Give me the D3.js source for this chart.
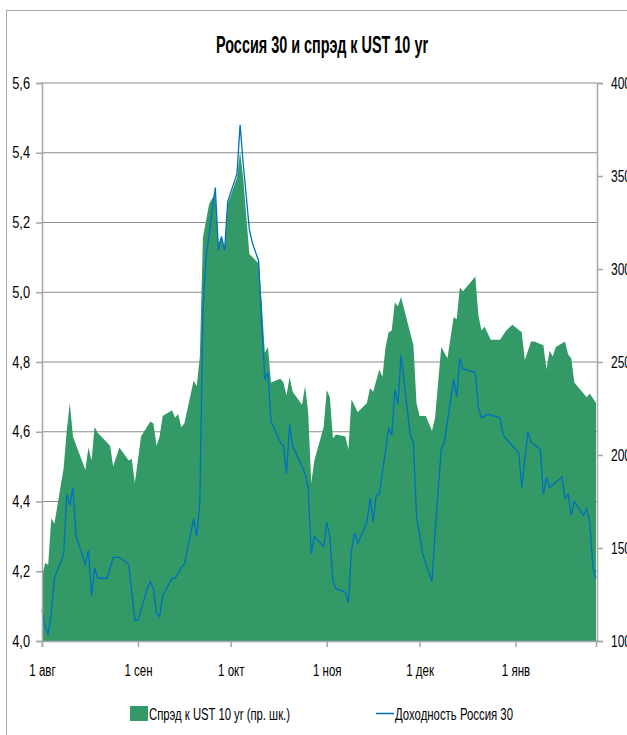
<!DOCTYPE html>
<html>
<head>
<meta charset="utf-8">
<script src="https://cdn.jsdelivr.net/npm/d3@7"></script>
<style>
  body { margin: 0; background: #fff; }
  svg { display: block; font-family: "Liberation Sans", Arial, sans-serif; }
</style>
</head>
<body>
<div id="chart"></div>
<script>
// spread to UST 10yr, bp (right axis)
var spreadDates = ["2011-08-01","2011-08-02","2011-08-03","2011-08-04","2011-08-05","2011-08-08","2011-08-09","2011-08-10","2011-08-11",
  "2011-08-15","2011-08-16","2011-08-17","2011-08-18","2011-08-19","2011-08-23","2011-08-24","2011-08-26","2011-08-29","2011-08-30",
  "2011-08-31","2011-09-02","2011-09-05","2011-09-06","2011-09-07","2011-09-08","2011-09-09","2011-09-12","2011-09-13","2011-09-14",
  "2011-09-15","2011-09-16","2011-09-19","2011-09-20","2011-09-21","2011-09-22","2011-09-23","2011-09-24","2011-09-26","2011-09-27",
  "2011-09-28","2011-09-29","2011-09-30","2011-10-03","2011-10-04","2011-10-05","2011-10-07","2011-10-10","2011-10-11","2011-10-12",
  "2011-10-13","2011-10-14","2011-10-17","2011-10-18","2011-10-19","2011-10-20","2011-10-21","2011-10-24","2011-10-25","2011-10-26",
  "2011-10-27","2011-10-28","2011-10-31","2011-11-01","2011-11-02","2011-11-03","2011-11-04","2011-11-07","2011-11-08","2011-11-09",
  "2011-11-11","2011-11-14","2011-11-15","2011-11-16","2011-11-18","2011-11-19","2011-11-20","2011-11-21","2011-11-22","2011-11-23",
  "2011-11-24","2011-11-25","2011-11-29","2011-11-30","2011-12-01","2011-12-03","2011-12-05","2011-12-06","2011-12-07","2011-12-08",
  "2011-12-10","2011-12-12","2011-12-13","2011-12-14","2011-12-15","2011-12-17","2011-12-19","2011-12-20","2011-12-21","2011-12-22",
  "2011-12-24","2011-12-27","2011-12-29","2011-12-31","2012-01-03","2012-01-04","2012-01-06","2012-01-07","2012-01-10","2012-01-11",
  "2012-01-12","2012-01-13","2012-01-14","2012-01-17","2012-01-18","2012-01-19","2012-01-20","2012-01-21","2012-01-24","2012-01-25",
  "2012-01-27"];
var spreadValues = [134,142,141,166,163,193,213,228,210,
  192,204,197,215,212,205,194,204,197,198,
  185,210,218,217,205,210,221,224,220,222,
  215,217,240,237,253,317,326,335,341,314,
  317,310,335,349,363,349,308,303,282,255,
  258,239,241,239,232,242,234,227,237,223,
  185,197,215,235,231,209,211,210,203,230,
  223,228,236,234,246,242,258,266,267,282,
  280,285,259,228,221,221,213,220,239,258,
  252,274,273,290,288,292,296,275,267,269,
  262,262,267,270,266,251,261,261,259,246,
  256,253,258,261,254,252,239,237,231,233,
  228];

// Russia 30 yield, % (left axis)
var yieldDates = ["2011-08-01","2011-08-02","2011-08-03","2011-08-04","2011-08-05","2011-08-08","2011-08-09","2011-08-10","2011-08-11",
  "2011-08-12","2011-08-15","2011-08-16","2011-08-17","2011-08-18","2011-08-19","2011-08-22","2011-08-24","2011-08-26","2011-08-29",
  "2011-08-31","2011-09-01","2011-09-04","2011-09-05","2011-09-06","2011-09-07","2011-09-08","2011-09-09","2011-09-12","2011-09-13",
  "2011-09-15","2011-09-16","2011-09-19","2011-09-20","2011-09-21","2011-09-22","2011-09-23","2011-09-26","2011-09-27","2011-09-28",
  "2011-09-29","2011-09-30","2011-10-03","2011-10-04","2011-10-05","2011-10-07","2011-10-08","2011-10-10","2011-10-11","2011-10-12",
  "2011-10-13","2011-10-14","2011-10-17","2011-10-18","2011-10-19","2011-10-20","2011-10-21","2011-10-25","2011-10-26","2011-10-27",
  "2011-10-28","2011-10-31","2011-11-01","2011-11-02","2011-11-03","2011-11-04","2011-11-07","2011-11-08","2011-11-09","2011-11-10",
  "2011-11-11","2011-11-14","2011-11-15","2011-11-16","2011-11-17","2011-11-18","2011-11-21","2011-11-22","2011-11-23","2011-11-24",
  "2011-11-25","2011-11-28","2011-11-29","2011-11-30","2011-12-02","2011-12-05","2011-12-06","2011-12-08","2011-12-09","2011-12-12",
  "2011-12-13","2011-12-14","2011-12-15","2011-12-19","2011-12-20","2011-12-21","2011-12-23","2011-12-27","2011-12-28","2011-12-30",
  "2012-01-02","2012-01-03","2012-01-05","2012-01-06","2012-01-09","2012-01-10","2012-01-11","2012-01-12","2012-01-16","2012-01-17",
  "2012-01-18","2012-01-19","2012-01-20","2012-01-23","2012-01-24","2012-01-25","2012-01-26","2012-01-27"];
var yieldValues = [4.09,4.04,4.02,4.08,4.18,4.25,4.42,4.39,4.44,
  4.30,4.22,4.26,4.13,4.21,4.18,4.18,4.24,4.24,4.22,
  4.06,4.06,4.15,4.17,4.15,4.08,4.07,4.13,4.18,4.18,
  4.21,4.22,4.35,4.30,4.40,4.95,5.10,5.30,5.12,5.16,
  5.12,5.26,5.34,5.48,5.37,5.18,5.14,5.09,4.91,4.75,
  4.77,4.63,4.57,4.56,4.48,4.62,4.56,4.48,4.44,4.25,
  4.30,4.27,4.34,4.30,4.17,4.15,4.14,4.11,4.26,4.31,
  4.28,4.34,4.41,4.34,4.42,4.42,4.61,4.59,4.72,4.68,
  4.82,4.59,4.57,4.36,4.25,4.17,4.31,4.55,4.57,4.75,
  4.70,4.81,4.78,4.77,4.67,4.64,4.65,4.64,4.59,4.57,
  4.54,4.44,4.60,4.57,4.55,4.42,4.47,4.44,4.47,4.41,
  4.42,4.36,4.40,4.36,4.38,4.34,4.21,4.18];

var leftTicks = [4.0, 4.2, 4.4, 4.6, 4.8, 5.0, 5.2, 5.4, 5.6];
var rightTicks = [100, 150, 200, 250, 300, 350, 400];
var monthTicks = ["2011-08-01","2011-09-01","2011-10-01","2011-11-01","2011-12-01","2012-01-01"];
var monthLabels = ["1 авг","1 сен","1 окт","1 ноя","1 дек","1 янв"];

var title = "Россия 30 и спрэд к UST 10 yr";
var spreadName = "Спрэд к UST 10 yr (пр. шк.)";
var yieldName = "Доходность Россия 30";

// the source picture is squeezed sideways, so texts are narrowed by a factor
function squeeze(sel, f) {
    sel.each(function() {
        var n = this.getComputedTextLength();
        d3.select(this).attr("textLength", n * f).attr("lengthAdjust", "spacingAndGlyphs");
    });
}

function init(){
    var w = 627;
    var h = 735;
    var left = 42, right = 597, top = 83, bottom = 641;
    var green = "#339966";
    var blue = "#0070c0";
    var gridCol = "#8c8c8c";

    var parse = d3.timeParse("%Y-%m-%d");
    var spread = spreadDates.map(function(d, i) { return {date: parse(d), v: spreadValues[i]}; });
    var yld = yieldDates.map(function(d, i) { return {date: parse(d), v: yieldValues[i]}; });

    var xscale = d3.scaleTime()
                    .domain([parse(spreadDates[0]), parse(spreadDates[spreadDates.length - 1])])
                    .range([left, right - 1]);
    var yleft = d3.scaleLinear().domain([4.0, 5.6]).range([bottom, top]);
    var yright = d3.scaleLinear().domain([100, 400]).range([bottom, top]);

    var svg = d3.select("#chart")
                .append("svg")
                .attr("width", w)
                .attr("height", h);

    // chart border
    svg.append("rect")
        .attr("x", 6.5).attr("y", 10.5)
        .attr("width", 700).attr("height", 800)
        .attr("fill", "none")
        .attr("stroke", "#a6a6a6");

    var t = svg.append("text")
        .attr("x", 322).attr("y", 53)
        .attr("text-anchor", "middle")
        .style("font-size", "23px")
        .style("font-weight", "bold")
        .text(title);
    t.attr("textLength", 212).attr("lengthAdjust", "spacingAndGlyphs");

    // gridlines
    svg.append("g")
        .selectAll("line")
        .data(leftTicks)
        .enter()
        .append("line")
        .attr("x1", left).attr("x2", right)
        .attr("y1", function(d) { return yleft(d); })
        .attr("y2", function(d) { return yleft(d); })
        .attr("stroke", gridCol)
        .attr("stroke-width", 1.2);

    // spread area
    var area = d3.area()
        .x(function(d) { return xscale(d.date); })
        .y0(yright(100))
        .y1(function(d) { return yright(d.v); });
    svg.append("path")
        .datum(spread)
        .attr("d", area)
        .attr("fill", green);

    // yield line
    var line = d3.line()
        .x(function(d) { return xscale(d.date); })
        .y(function(d) { return yleft(d.v); });
    svg.append("path")
        .datum(yld)
        .attr("d", line)
        .attr("fill", "none")
        .attr("stroke", blue)
        .attr("stroke-width", 1.3);

    // left axis
    var axL = svg.append("g")
        .attr("transform", "translate(" + left + ",0)")
        .call(d3.axisLeft(yleft).tickValues(leftTicks)
            .tickFormat(function(d) { return d3.format(".1f")(d).replace(".", ","); })
            .tickSize(6).tickPadding(6));
    // right axis
    var axR = svg.append("g")
        .attr("transform", "translate(" + right + ",0)")
        .call(d3.axisRight(yright).tickValues(rightTicks).tickSize(6).tickPadding(8));
    // bottom axis
    var axB = svg.append("g")
        .attr("transform", "translate(0," + bottom + ")")
        .call(d3.axisBottom(xscale).tickValues(monthTicks.map(parse))
            .tickFormat(function(d, i) { return monthLabels[i]; })
            .tickSize(6).tickPadding(18));

    [axL, axR, axB].forEach(function(a) {
        a.select(".domain").attr("stroke", "#a6a6a6").attr("stroke-width", 1.5);
        a.selectAll(".tick line").attr("stroke", "#a6a6a6").attr("stroke-width", 1.5);
        a.selectAll("text").attr("fill", "#000").style("font-size", "16px")
            .style("font-family", "'Liberation Sans', Arial, sans-serif");
    });
    squeeze(axL.selectAll("text"), 0.8);
    squeeze(axR.selectAll("text"), 0.75);
    squeeze(axB.selectAll("text"), 0.72);

    // legend
    var lg = svg.append("g");
    lg.append("rect").attr("x", 130).attr("y", 706).attr("width", 18).attr("height", 15).attr("fill", green);
    lg.append("text").attr("x", 149).attr("y", 720).style("font-size", "16px").text(spreadName)
        .attr("textLength", 141).attr("lengthAdjust", "spacingAndGlyphs");
    lg.append("line").attr("x1", 376).attr("x2", 394).attr("y1", 713.5).attr("y2", 713.5)
        .attr("stroke", blue).attr("stroke-width", 1.5);
    lg.append("text").attr("x", 395).attr("y", 720).style("font-size", "16px").text(yieldName)
        .attr("textLength", 118).attr("lengthAdjust", "spacingAndGlyphs");
}
window.onload = init;
</script>
</body>
</html>
